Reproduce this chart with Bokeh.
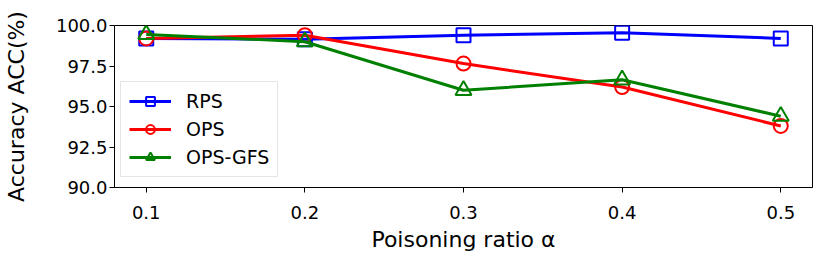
from bokeh.plotting import figure
from bokeh.models import FixedTicker, PrintfTickFormatter, Range1d, Legend, LegendItem
from bokeh.embed import file_html
from bokeh.resources import INLINE

ratios = [0.1, 0.2, 0.3, 0.4, 0.5]
rps = [99.2, 99.15, 99.4, 99.55, 99.2]
ops = [99.2, 99.4, 97.65, 96.2, 93.8]
ops_gfs = [99.45, 99.0, 96.0, 96.65, 94.4]
y_ticks = [90.0, 92.5, 95.0, 97.5, 100.0]

FONT = "DejaVu Sans"

p = figure(width=830, height=257, output_backend="svg", toolbar_location=None,
           x_range=Range1d(0.08, 0.52), y_range=Range1d(90, 100),
           min_border_left=111, min_border_top=25, min_border_right=18, min_border_bottom=70)
p.grid.visible = False
p.outline_line_color = "black"
p.outline_line_width = 1
p.outline_line_alpha = 1

for ax in (p.xaxis, p.yaxis):
    ax.major_label_text_font = FONT
    ax.major_label_text_font_size = "18px"
    ax.major_label_text_color = "black"
    ax.axis_line_color = "black"
    ax.major_tick_line_color = "black"
    ax.major_tick_out = 5
    ax.major_tick_in = 0
    ax.minor_tick_line_color = None
    ax.axis_label_text_font = FONT
    ax.axis_label_text_font_size = "22px"
    ax.axis_label_text_font_style = "normal"
    ax.axis_label_text_color = "black"
p.xaxis.ticker = FixedTicker(ticks=ratios)
p.xaxis.formatter = PrintfTickFormatter(format="%.1f")
p.xaxis.major_label_standoff = 13
p.xaxis.axis_label = "Poisoning ratio α"
p.xaxis.axis_label_standoff = 5
p.yaxis.ticker = FixedTicker(ticks=y_ticks)
p.yaxis.formatter = PrintfTickFormatter(format="%.1f")
p.yaxis.major_label_standoff = 2
p.yaxis.axis_label = "Accuracy ACC(%)"
p.yaxis.axis_label_standoff = 24

series = [("RPS", rps, "#0000ff", "square", 14),
          ("OPS", ops, "#ff0000", "circle", 14),
          ("OPS-GFS", ops_gfs, "#008000", "triangle", 16)]
items = []
for name, ys, col, mk, sz in series:
    l = p.line(ratios, ys, line_color=col, line_width=3)
    s = p.scatter(ratios, ys, marker=mk, size=sz, line_color=col, line_width=2,
                  fill_color="white", fill_alpha=0)
    items.append(LegendItem(label=name, renderers=[l, s]))

legend = Legend(items=items, location=(6, 10), glyph_width=42, glyph_height=22,
                label_text_font=FONT, label_text_font_size="19px", label_text_color="black",
                label_standoff=15, padding=8, spacing=6, margin=0,
                border_line_color="#cccccc", border_line_width=1,
                background_fill_color="white", background_fill_alpha=0.8)
p.add_layout(legend, "center")

open("out.html", "w").write(file_html(p, INLINE))
